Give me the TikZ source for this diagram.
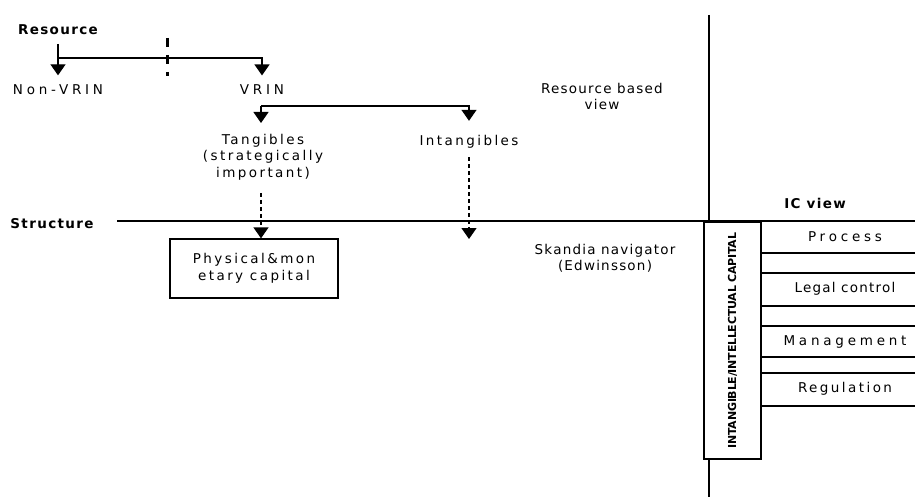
\documentclass[tikz,border=0pt]{standalone}
\usepackage{fontspec}
\setmainfont{DejaVu Sans}[LetterSpace=18]
\newfontfamily\headfont{DejaVu Sans}[LetterSpace=10]
\usetikzlibrary{arrows.meta}
\newcommand{\lbox}[1]{
	\begin{tabular}{c}
		#1
	\end{tabular}
}

\begin{document}
\begin{tikzpicture}[x=1pt,y=-1pt,line width=1.3pt,
		every node/.style={font=\fontsize{13.5}{16.5}\selectfont,inner sep=1pt},
		wide/.style={font=\fontsize{13.5}{16.5}\selectfont\addfontfeature{LetterSpace=28}},
		tight/.style={font=\fontsize{13.5}{16.5}\selectfont\addfontfeature{LetterSpace=9}},
		head/.style={font=\headfont\bfseries\fontsize{13.5}{15}\selectfont},
		tip/.style={-{Triangle[width=15pt,length=11pt]}},
		dotline/.style={line width=1.3pt,dash pattern=on 4pt off 3pt}]
	\useasboundingbox (0,0) rectangle (915,500);

	% resource side
	\node[head] (res) at (58,30) {Resource};
	\node[wide] (nonvrin) at (58,90) {Non-VRIN};
	\node[wide] (vrin) at (262,90) {VRIN};
	\node[anchor=north] (tang) at (263,131) {\lbox{Tangibles \\ (strategically \\ important)}};
	\node (intang) at (469,142) {Intangibles};
	\node[tight] (rbv) at (602,98) {\lbox{Resource based \\ view}};

	\coordinate (rs) at (58,44);
	\coordinate (split) at (58,58);
	\coordinate (br) at (261,106);
	\draw[tip,shorten >=8pt] (rs) -- (nonvrin.north);
	\draw[tip,shorten >=8pt] (split) -| (vrin.north);
	\draw[line width=3pt,dash pattern=on 9pt off 8pt] (167,38) -- (167,76);
	\draw[tip,shorten >=8pt] (br) -- (br |- tang.north);
	\draw[tip,shorten >=13pt] (br) -| (intang.north);

	% structure side
	\coordinate (sl) at (117,221);
	\coordinate (sr) at (915,221);
	\draw (sl) -- (sr);
	\node[head] (struct) at (52,224) {Structure};
	\node[draw,minimum width=168pt,minimum height=59pt] (phys) at (254,268.5) {\lbox{Physical\&mon \\ etary capital}};
	\node[tight] (skandia) at (605,259) {\lbox{Skandia navigator \\ (Edwinsson)}};
	\coordinate (iend) at (469,239);
	\draw[tip,dotline,shorten <=9pt] (tang.south -| br) -- (br |- phys.north);
	\draw[tip,dotline,shorten <=7pt] (intang.south) -- (iend);

	% IC view
	\coordinate (vtop) at (709,15);
	\coordinate (vbot) at (709,497);
	\draw (vtop) -- (vtop |- sl);
	\node[draw,minimum width=57pt,minimum height=237pt] (icbox) at (732.5,340.5) {};
	\node[rotate=90,font=\fontsize{11}{12}\headfont\bfseries\addfontfeature{LetterSpace=-2}] (iclab) at (icbox.center) {INTANGIBLE/INTELLECTUAL CAPITAL};
	\draw (icbox.south -| vbot) -- (vbot);
	\node[head] (icview) at (815,203) {IC view};
	\foreach \yy in {253,273,306,326,357,373,406}
		\draw (icbox.east |- 0,\yy) -- (915,\yy);
	\node[wide] (proc) at (845,237) {Process};
	\node[tight] (legal) at (845,289) {Legal control};
	\node[wide] (mgmt) at (845,342) {Management};
	\node (regul) at (845,389) {Regulation};
\end{tikzpicture}
\end{document}
